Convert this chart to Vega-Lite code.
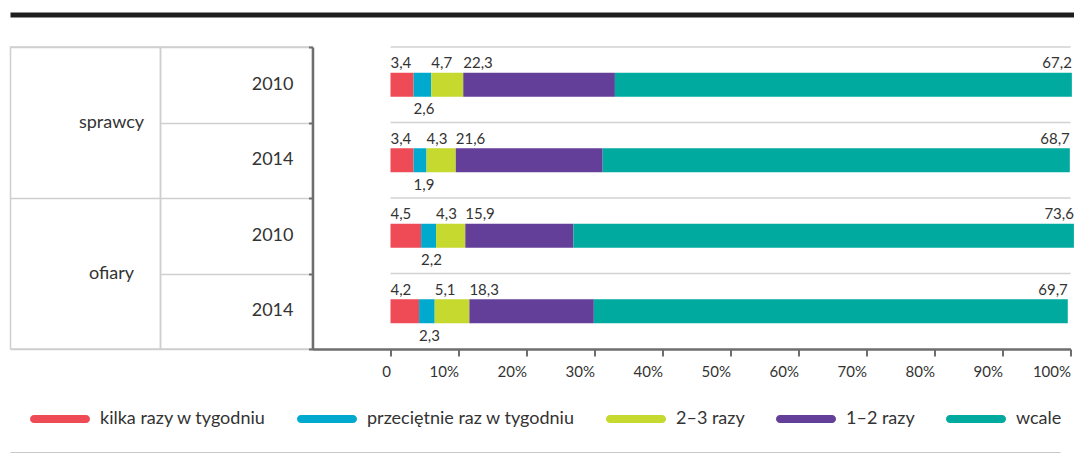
{
  "$schema": "https://vega.github.io/schema/vega-lite/v6.json",
  "background": "white",
  "padding": {"left": 7.5, "top": 12, "right": 0, "bottom": 0},
  "bounds": "flush",
  "spacing": 32,
  "config": {
    "font": "Lato",
    "view": {"stroke": null},
    "locale": {"number": {"decimal": ",", "thousands": " ", "grouping": [3], "currency": ["", " zł"]}},
    "text": {"font": "Lato", "color": "#333"},
    "axis": {"labelFont": "Lato", "labelColor": "#333", "minExtent": 0},
    "legend": {"labelFont": "Lato", "labelColor": "#333"}
  },
  "datasets": {
    "d": [
      {"grupa": "sprawcy", "rok": "2010", "wiersz": "sprawcy 2010", "kategoria": "kilka razy w tygodniu", "wartosc": 3.4},
      {"grupa": "sprawcy", "rok": "2010", "wiersz": "sprawcy 2010", "kategoria": "przeciętnie raz w tygodniu", "wartosc": 2.6},
      {"grupa": "sprawcy", "rok": "2010", "wiersz": "sprawcy 2010", "kategoria": "2–3 razy", "wartosc": 4.7},
      {"grupa": "sprawcy", "rok": "2010", "wiersz": "sprawcy 2010", "kategoria": "1–2 razy", "wartosc": 22.3},
      {"grupa": "sprawcy", "rok": "2010", "wiersz": "sprawcy 2010", "kategoria": "wcale", "wartosc": 67.2},
      {"grupa": "sprawcy", "rok": "2014", "wiersz": "sprawcy 2014", "kategoria": "kilka razy w tygodniu", "wartosc": 3.4},
      {"grupa": "sprawcy", "rok": "2014", "wiersz": "sprawcy 2014", "kategoria": "przeciętnie raz w tygodniu", "wartosc": 1.9},
      {"grupa": "sprawcy", "rok": "2014", "wiersz": "sprawcy 2014", "kategoria": "2–3 razy", "wartosc": 4.3},
      {"grupa": "sprawcy", "rok": "2014", "wiersz": "sprawcy 2014", "kategoria": "1–2 razy", "wartosc": 21.6},
      {"grupa": "sprawcy", "rok": "2014", "wiersz": "sprawcy 2014", "kategoria": "wcale", "wartosc": 68.7},
      {"grupa": "ofiary", "rok": "2010", "wiersz": "ofiary 2010", "kategoria": "kilka razy w tygodniu", "wartosc": 4.5},
      {"grupa": "ofiary", "rok": "2010", "wiersz": "ofiary 2010", "kategoria": "przeciętnie raz w tygodniu", "wartosc": 2.2},
      {"grupa": "ofiary", "rok": "2010", "wiersz": "ofiary 2010", "kategoria": "2–3 razy", "wartosc": 4.3},
      {"grupa": "ofiary", "rok": "2010", "wiersz": "ofiary 2010", "kategoria": "1–2 razy", "wartosc": 15.9},
      {"grupa": "ofiary", "rok": "2010", "wiersz": "ofiary 2010", "kategoria": "wcale", "wartosc": 73.6},
      {"grupa": "ofiary", "rok": "2014", "wiersz": "ofiary 2014", "kategoria": "kilka razy w tygodniu", "wartosc": 4.2},
      {"grupa": "ofiary", "rok": "2014", "wiersz": "ofiary 2014", "kategoria": "przeciętnie raz w tygodniu", "wartosc": 2.3},
      {"grupa": "ofiary", "rok": "2014", "wiersz": "ofiary 2014", "kategoria": "2–3 razy", "wartosc": 5.1},
      {"grupa": "ofiary", "rok": "2014", "wiersz": "ofiary 2014", "kategoria": "1–2 razy", "wartosc": 18.3},
      {"grupa": "ofiary", "rok": "2014", "wiersz": "ofiary 2014", "kategoria": "wcale", "wartosc": 69.7}
    ]
  },
  "vconcat": [
    {
      "width": 1064,
      "height": 2,
      "data": {"values": [{}]},
      "mark": {"type": "rule", "color": "#1e1e1e", "strokeWidth": 5},
      "encoding": {"y": {"datum": 0, "type": "quantitative", "scale": {"domain": [0, 1]}, "axis": null}}
    },
    {
      "hconcat": [
        {
          "width": 150,
          "height": 302,
          "view": {"stroke": "#cfcfcf", "strokeWidth": 1.5},
          "data": {"name": "d"},
          "transform": [{"filter": "datum.kategoria === 'wcale' && datum.rok === '2010'"}],
          "mark": {"type": "text", "font": "Lato", "fontSize": 18, "color": "#333", "dx": 26},
          "encoding": {
            "y": {"field": "grupa", "type": "nominal", "sort": null, "scale": {"paddingInner": 0, "paddingOuter": 0},
              "axis": {"title": null, "labels": false, "ticks": false, "domain": false, "grid": true, "gridColor": "#cfcfcf", "gridWidth": 1.5, "tickBand": "extent"}},
            "text": {"field": "grupa"}
          }
        },
        {
          "width": 152,
          "height": 302,
          "view": {"stroke": "#cfcfcf", "strokeWidth": 1.5},
          "data": {"name": "d"},
          "transform": [{"filter": "datum.kategoria === 'wcale'"}],
          "mark": {"type": "text", "font": "Lato", "fontSize": 18, "color": "#333", "align": "right", "dx": 57},
          "encoding": {
            "y": {"field": "wiersz", "type": "nominal", "sort": null, "scale": {"paddingInner": 0, "paddingOuter": 0},
              "axis": {"title": null, "labels": false, "ticks": false, "domain": false, "grid": true, "gridColor": "#cfcfcf", "gridWidth": 1.5, "tickBand": "extent"}},
            "text": {"field": "rok"}
          }
        },
        {
          "width": 758,
          "height": 302,
          "data": {"name": "d"},
          "transform": [{"stack": "wartosc", "groupby": ["wiersz"], "as": ["x0", "x1"]}],
          "layer": [
            {
              "transform": [{"filter": "datum.kategoria === 'wcale'"}],
              "mark": {"type": "rule", "color": "#d2d2d2", "strokeWidth": 1.5},
              "encoding": {
                "y": {"field": "wiersz", "type": "nominal", "sort": null, "bandPosition": 0},
                "x": {"datum": 0, "type": "quantitative"},
                "x2": {"datum": 100}
              }
            },
            {
              "mark": {"type": "bar", "height": {"band": 0.318}},
              "encoding": {
                "y": {"field": "wiersz", "type": "nominal", "sort": null, "scale": {"paddingInner": 0, "paddingOuter": 0},
                  "axis": {"title": null, "labels": false, "domain": true, "domainColor": "#6e6e6e", "domainWidth": 2.5, "ticks": true, "tickSize": 4, "tickColor": "#6e6e6e", "tickWidth": 2, "tickBand": "extent", "grid": false}},
                "x": {"field": "x0", "type": "quantitative", "scale": {"domain": [-11.4706, 100], "nice": false, "zero": false},
                  "axis": {"title": null, "values": [0, 10, 20, 30, 40, 50, 60, 70, 80, 90, 100], "labelExpr": "datum.value === 0 ? '0' : datum.value + '%'", "labelAlign": "right", "domainColor": "#6e6e6e", "domainWidth": 2.5, "tickColor": "#6e6e6e", "tickWidth": 2, "tickSize": 7, "labelPadding": 8, "labelFont": "Lato", "labelFontSize": 15, "labelColor": "#333", "grid": false}},
                "x2": {"field": "x1"},
                "color": {"field": "kategoria", "type": "nominal",
                  "scale": {"domain": ["kilka razy w tygodniu", "przeciętnie raz w tygodniu", "2–3 razy", "1–2 razy", "wcale"], "range": ["#ef4b57", "#00aacf", "#c6d92e", "#633f99", "#00aa9e"]},
                  "legend": {"orient": "none", "legendX": 19.5, "legendY": 376, "direction": "horizontal", "columns": 5, "title": null,
                    "symbolType": "M-0.8667,-0.1333L0.8667,-0.1333A0.1333,0.1333 0 0 1 0.8667,0.1333L-0.8667,0.1333A0.1333,0.1333 0 0 1 -0.8667,-0.1333Z",
                    "symbolSize": 3600, "symbolStrokeWidth": 0, "symbolOpacity": 1, "labelOffset": 10, "columnPadding": 30, "labelLimit": 0, "labelFont": "Lato", "labelFontSize": 18, "labelColor": "#333", "padding": 0}}
              }
            },
            {
              "transform": [{"filter": "datum.kategoria !== 'wcale' && datum.kategoria !== 'przeciętnie raz w tygodniu'"}],
              "mark": {"type": "text", "align": "left", "baseline": "alphabetic", "dy": -16.5, "fontSize": 15, "color": "#333"},
              "encoding": {
                "y": {"field": "wiersz", "type": "nominal", "sort": null},
                "x": {"field": "x0", "type": "quantitative"},
                "text": {"field": "wartosc", "type": "quantitative", "format": ".1f"}
              }
            },
            {
              "transform": [{"filter": "datum.kategoria === 'przeciętnie raz w tygodniu'"}],
              "mark": {"type": "text", "align": "left", "baseline": "alphabetic", "dy": 29.5, "fontSize": 15, "color": "#333"},
              "encoding": {
                "y": {"field": "wiersz", "type": "nominal", "sort": null},
                "x": {"field": "x0", "type": "quantitative"},
                "text": {"field": "wartosc", "type": "quantitative", "format": ".1f"}
              }
            },
            {
              "transform": [{"filter": "datum.kategoria === 'wcale'"}],
              "mark": {"type": "text", "align": "right", "baseline": "alphabetic", "dy": -16.5, "fontSize": 15, "color": "#333"},
              "encoding": {
                "y": {"field": "wiersz", "type": "nominal", "sort": null},
                "x": {"field": "x1", "type": "quantitative"},
                "text": {"field": "wartosc", "type": "quantitative", "format": ".1f"}
              }
            }
          ]
        }
      ],
      "spacing": 0,
      "bounds": "flush"
    },
    {
      "width": 1050,
      "height": 374,
      "data": {"values": [{}]},
      "mark": {"type": "rule", "color": "#c8c8c8", "strokeWidth": 2},
      "encoding": {"y": {"datum": 0, "type": "quantitative", "scale": {"domain": [0, 1]}, "axis": null}}
    }
  ]
}
